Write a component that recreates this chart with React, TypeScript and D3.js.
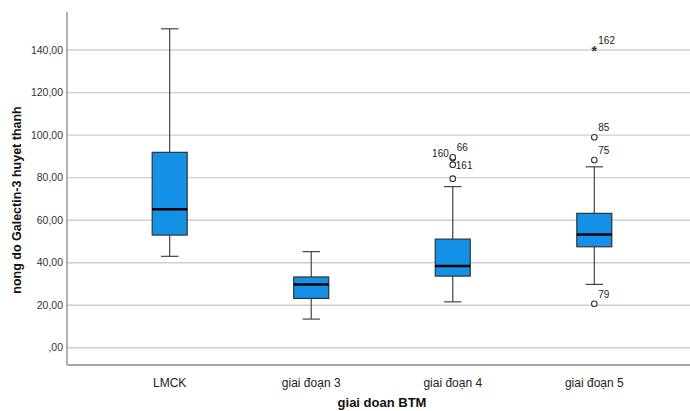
import React from 'react';
import * as d3 from 'd3';

const categories = ['LMCK', 'giai đoạn 3', 'giai đoạn 4', 'giai đoạn 5'];
// [whiskerLow, q1, median, q3, whiskerHigh]
const boxStats = [
    [43, 53, 65.2, 91.9, 150],
    [13.5, 23.2, 29.8, 33.3, 45.2],
    [21.6, 33.7, 38.4, 51.1, 75.8],
    [29.8, 47.5, 53.3, 63.2, 85.1],
];
// outliers: category index, value, label, kind
const outliers = [
    { cat: 2, value: 89.2, label: '160', kind: 'o', side: 'left' },
    { cat: 2, value: 89.6, label: '66', kind: 'o', side: 'upright' },
    { cat: 2, value: 86.1, label: '161', kind: 'o', side: 'right' },
    { cat: 2, value: 79.5, label: '', kind: 'o', side: 'right' },
    { cat: 3, value: 99, label: '85', kind: 'o', side: 'upright' },
    { cat: 3, value: 88.3, label: '75', kind: 'o', side: 'upright' },
    { cat: 3, value: 20.7, label: '79', kind: 'o', side: 'upright' },
    { cat: 3, value: 140.2, label: '162', kind: '*', side: 'upright' },
];
const yTicks = [0, 20, 40, 60, 80, 100, 120, 140];

const W = 690, H = 411;
const left = 67, top = 12, bottom = 365, right = 690;
const font = '"Liberation Sans", Arial, sans-serif';

export default function App() {
    const y = d3.scaleLinear().domain([-8.1, 157.9]).range([bottom, top]);
    const x = d3.scalePoint<string>().domain(categories).range([169.7, 594.3]);
    const bw = 35;
    const fmt = (v: number) => (v === 0 ? ',00' : v.toFixed(2).replace('.', ','));

    return (
        <svg width={W} height={H} style={{ position: 'absolute', left: 0, top: 0 }} fontFamily={font}>
            <rect width={W} height={H} fill="#fff" />
            {yTicks.map(t => (
                <g key={t}>
                    <line x1={left} x2={right} y1={y(t)} y2={y(t)} stroke="#cfcfcf" strokeWidth={1.4} />
                    <text x={63} y={y(t)} dy="0.35em" textAnchor="end" fontSize={10.5} fill="#333">{fmt(t)}</text>
                </g>
            ))}
            <line x1={left} x2={left} y1={top} y2={bottom} stroke="#888" strokeWidth={1.3} />
            <line x1={left} x2={right} y1={bottom} y2={bottom} stroke="#888" strokeWidth={1.3} />

            {categories.map((c, i) => {
                const cx = x(c)!;
                const [lo, q1, med, q3, hi] = boxStats[i];
                return (
                    <g key={c}>
                        <line x1={cx} x2={cx} y1={y(hi)} y2={y(q3)} stroke="#444" strokeWidth={1.2} />
                        <line x1={cx} x2={cx} y1={y(q1)} y2={y(lo)} stroke="#444" strokeWidth={1.2} />
                        <line x1={cx - bw / 4} x2={cx + bw / 4} y1={y(hi)} y2={y(hi)} stroke="#444" strokeWidth={1.2} />
                        <line x1={cx - bw / 4} x2={cx + bw / 4} y1={y(lo)} y2={y(lo)} stroke="#444" strokeWidth={1.2} />
                        <rect x={cx - bw / 2} y={y(q3)} width={bw} height={y(q1) - y(q3)} fill="#1490e6" stroke="#333" strokeWidth={1.2} />
                        <line x1={cx - bw / 2} x2={cx + bw / 2} y1={y(med)} y2={y(med)} stroke="#000" strokeWidth={2.5} />
                        <text x={cx} y={383} dy="0.35em" textAnchor="middle" fontSize={12} fill="#222">{c}</text>
                    </g>
                );
            })}

            {outliers.map((o, i) => {
                const cx = x(categories[o.cat])!;
                const cy = y(o.value);
                let lx = cx + 5, ly = cy - 5, anchor = 'start';
                if (o.side === 'left') { lx = cx - 4; ly = cy - 1; anchor = 'end'; }
                if (o.side === 'right') { lx = cx + 3; ly = cy + 4; }
                if (o.side === 'upright') { lx = cx + 4; ly = cy - 6; }
                return (
                    <g key={i}>
                        {o.kind === 'o'
                            ? <circle cx={cx} cy={cy} r={2.8} fill="#fff" stroke="#333" strokeWidth={1.1} />
                            : <text x={cx} y={cy + 6} textAnchor="middle" fontSize={14} fontWeight="bold" fill="#333">*</text>}
                        {o.label && <text x={lx} y={ly} textAnchor={anchor} fontSize={10} fill="#222">{o.label}</text>}
                    </g>
                );
            })}

            <text transform={`translate(21,200) rotate(-90)`} textAnchor="middle" fontSize={12.5} fontWeight="bold" fill="#111">nong do Galectin-3 huyet thanh</text>
            <text x={382} y={402} dy="0.35em" textAnchor="middle" fontSize={13} fontWeight="bold" fill="#111">giai doan BTM</text>
        </svg>
    );
}
